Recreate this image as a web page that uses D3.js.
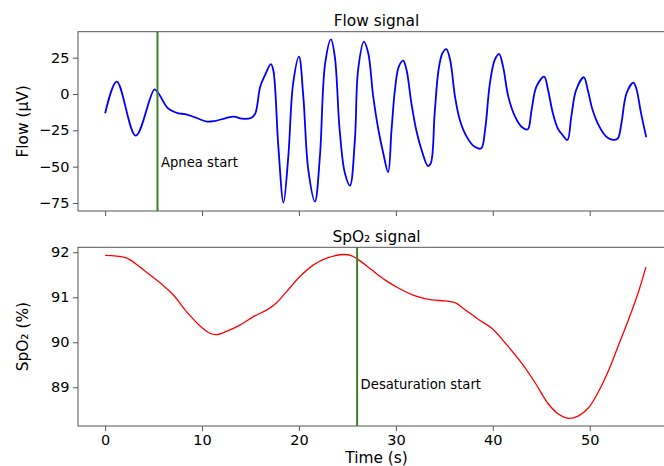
<!DOCTYPE html>
<html><head><meta charset="utf-8">
<script src="https://cdn.jsdelivr.net/npm/d3@7"></script>
<style>body{margin:0;background:#fff}svg{display:block;font-family:"DejaVu Sans",sans-serif}</style>
</head><body><svg id="c" width="664" height="466"></svg>
<script>
const flowT = [0,1.2,3.16,5.09,5.5,6.5,7.56,8.25,9.28,10.5,11.3,12.4,13.3,14.1,15.1,15.5,16.0,16.5,17.1,17.35,17.87,18.4,18.9,19.4,20.0,20.45,20.96,21.65,22.16,22.7,23.3,23.7,24.2,24.74,25.26,25.77,26.1,26.7,27.15,27.66,28.2,28.7,29.2,29.55,29.9,30.3,30.75,31.1,31.6,32.1,32.65,33.3,33.6,34.0,34.4,34.8,35.2,35.6,36.1,36.6,37.3,38.1,38.8,39.2,39.7,40.2,40.65,41.06,41.6,42.3,42.96,43.6,44.0,44.5,45.3,45.7,46.2,46.7,47.2,47.7,48.1,48.6,49.4,49.8,50.3,51.0,51.7,52.4,52.9,53.27,53.8,54.5,54.8,55.3,55.84];
const flowV = [-13.3,8.5,-28.7,3.2,0.5,-9.9,-13.3,-13.8,-16.1,-19,-18.6,-16.7,-15.6,-17,-16.3,-13.3,5,13,20.6,16.5,-36,-74.7,-43,7.3,25.7,-1.8,-52,-74,-43,21,37.6,25.7,-24.8,-54.6,-63,-31.6,16.5,36,28,-1.8,-24.8,-40.8,-53.8,-24.8,2.75,18.8,22.9,16.5,-6.4,-24.8,-38.5,-49.5,-47.7,-13.3,16.5,28,30.9,23.4,-1.8,-17.9,-29.3,-36.2,-37.4,-24.8,7.3,23.4,27.5,18.8,-1.8,-15.6,-22.5,-24.3,-11,5,11.9,2.75,-13.3,-23.6,-28.2,-31.6,-15.6,2.75,11.5,2.75,-11,-22.5,-29.3,-31.6,-30.5,-20.2,0.5,7.8,3.9,-13.3,-29.8];
const spoT = [0,1.9,2.58,3.95,5.67,7.04,8.4,9.8,10.8,11.5,12.5,13.9,15.3,16.7,17.7,18.7,20.1,21.5,22.86,24.6,25.46,26.15,27.5,28.9,30.3,32.0,33.7,35.1,36.1,37.1,38.5,39.9,41.3,43.0,44.4,45.7,46.8,47.8,48.8,49.9,50.9,52.0,53.0,54.0,55.0,55.8];
const spoV = [91.93,91.89,91.83,91.61,91.32,91.05,90.68,90.36,90.2,90.17,90.24,90.38,90.57,90.72,90.88,91.12,91.46,91.72,91.87,91.95,91.92,91.83,91.61,91.38,91.2,91.03,90.94,90.92,90.88,90.73,90.51,90.31,89.98,89.53,89.09,88.64,88.4,88.31,88.36,88.55,88.9,89.4,89.95,90.5,91.1,91.67];
const xTicks = [0,10,20,30,40,50];
const flowTicks = [25,0,-25,-50,-75];
const spoTicks = [92,91,90,89];
const apneaStart = 5.4, desatStart = 26.0;
const titles = ["Flow signal","SpO\u2082 signal"];
const yLabels = ["Flow (\u00b5V)","SpO\u2082 (%)"];
const xLabel = "Time (s)";
const annots = ["Apnea start","Desaturation start"];

const svg = d3.select("#c");
const L=78, R=675;
const x = d3.scaleLinear().domain([-2.8,58.8]).range([L,R]);
const panels = [
  {top:31.7,bot:211,dom:[-80.5,42.85],t:flowT,v:flowV,ticks:flowTicks,color:"#0000ff",w:1.8,vline:apneaStart,ann:annots[0],annY:167,title:titles[0],titleY:26,ylab:yLabels[0],labels:false},
  {top:247.3,bot:426,dom:[88.14,92.11],t:spoT,v:spoV,ticks:spoTicks,color:"#ff0000",w:1.3,vline:desatStart,ann:annots[1],annY:388.5,title:titles[1],titleY:241.7,ylab:yLabels[1],labels:true}
];
const spine="#555", tickC="#555";
panels.forEach(p=>{
  const y = d3.scaleLinear().domain(p.dom).range([p.bot,p.top]);
  const g = svg.append("g");
  const clipId = "clip"+Math.round(p.top);
  svg.append("clipPath").attr("id",clipId).append("rect").attr("x",L).attr("y",p.top).attr("width",R-L).attr("height",p.bot-p.top);
  const data = p.t.map((t,i)=>[t,p.v[i]]);
  g.append("path").datum(data).attr("clip-path",`url(#${clipId})`)
    .attr("fill","none").attr("stroke",p.color).attr("stroke-width",p.w).attr("stroke-linejoin","round")
    .attr("d",d3.line().x(d=>x(d[0])).y(d=>y(d[1])).curve(d3.curveCatmullRom.alpha(0.5)));
  g.append("line").attr("x1",x(p.vline)).attr("x2",x(p.vline)).attr("y1",p.top).attr("y2",p.bot)
    .attr("stroke","#3f8024").attr("stroke-width",2);
  g.append("text").attr("x",x(p.vline)+3.5).attr("y",p.annY).attr("font-size",13.2).attr("fill","#000").text(p.ann);
  const ya = d3.axisLeft(y).tickValues(p.ticks).tickSize(5).tickPadding(3.5).tickFormat(d3.format("d"));
  const yg = g.append("g").attr("transform",`translate(${L},0)`).call(ya);
  const xa = d3.axisBottom(x).tickValues(xTicks).tickSize(5).tickPadding(4);
  if(!p.labels) xa.tickFormat("");
  const xg = g.append("g").attr("transform",`translate(0,${p.bot})`).call(xa);
  [yg,xg].forEach(a=>{a.select(".domain").remove();a.selectAll("line").attr("stroke",tickC);a.selectAll("text").attr("font-size",14.5).attr("font-family","DejaVu Sans").attr("fill","#000");});
  g.append("rect").attr("x",L).attr("y",p.top).attr("width",R-L).attr("height",p.bot-p.top)
    .attr("fill","none").attr("stroke",spine).attr("stroke-width",1);
  g.append("text").attr("x",(L+R)/2).attr("y",p.titleY).attr("text-anchor","middle").attr("font-size",15.4).text(p.title);
  g.append("text").attr("transform",`translate(28,${(p.top+p.bot)/2}) rotate(-90)`).attr("text-anchor","middle").attr("font-size",15.4).text(p.ylab);
});
svg.append("text").attr("x",(L+R)/2).attr("y",463).attr("text-anchor","middle").attr("font-size",15.4).text(xLabel);
</script></body></html>
